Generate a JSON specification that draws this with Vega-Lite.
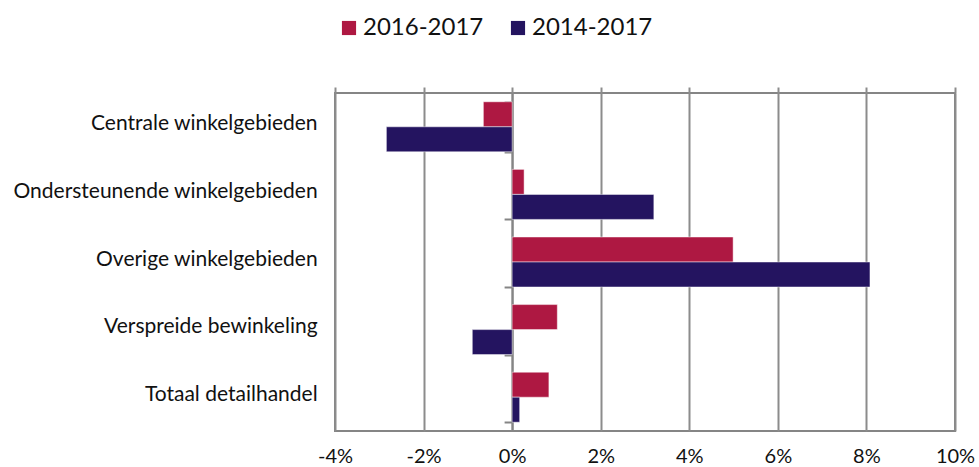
{
  "$schema": "https://vega.github.io/schema/vega-lite/v6.json",
  "autosize": {"type": "none"},
  "width": 620,
  "height": 338,
  "padding": {"left": 335, "top": 93, "right": 24, "bottom": 36},
  "background": "#ffffff",
  "config": {
    "view": {"stroke": "#858585", "strokeWidth": 2},
    "font": "Lato",
    "axis": {"labelFont": "Lato", "labelColor": "#111111"},
    "legend": {"labelFont": "Lato"}
  },
  "data": {
    "values": [
      {"cat": "Centrale winkelgebieden", "period": "2016-2017", "value": -0.65},
      {"cat": "Centrale winkelgebieden", "period": "2014-2017", "value": -2.84},
      {"cat": "Ondersteunende winkelgebieden", "period": "2016-2017", "value": 0.27},
      {"cat": "Ondersteunende winkelgebieden", "period": "2014-2017", "value": 3.2},
      {"cat": "Overige winkelgebieden", "period": "2016-2017", "value": 4.99},
      {"cat": "Overige winkelgebieden", "period": "2014-2017", "value": 8.08},
      {"cat": "Verspreide bewinkeling", "period": "2016-2017", "value": 1.02},
      {"cat": "Verspreide bewinkeling", "period": "2014-2017", "value": -0.9},
      {"cat": "Totaal detailhandel", "period": "2016-2017", "value": 0.83},
      {"cat": "Totaal detailhandel", "period": "2014-2017", "value": 0.17}
    ]
  },
  "resolve": {"axis": {"x": "independent"}},
  "layer": [
    {
      "mark": {"type": "bar", "stroke": "#ffffff", "strokeWidth": 0.8, "strokeOpacity": 0.6},
      "encoding": {
        "y": {
          "field": "cat",
          "type": "nominal",
          "sort": ["Centrale winkelgebieden", "Ondersteunende winkelgebieden", "Overige winkelgebieden", "Verspreide bewinkeling", "Totaal detailhandel"],
          "scale": {"paddingInner": 0.26, "paddingOuter": 0.13},
          "axis": {
            "title": null,
            "offset": -177.1,
            "domain": true,
            "domainColor": "#858585",
            "domainWidth": 2,
            "ticks": true,
            "tickBand": "extent",
            "tickSize": 8,
            "tickColor": "#858585",
            "tickWidth": 2,
            "labelPadding": 187,
            "labelFontSize": 21,
            "labelOffset": -3,
            "labelLimit": 500,
            "grid": false
          }
        },
        "yOffset": {"field": "period", "type": "nominal", "sort": ["2016-2017", "2014-2017"]},
        "x": {
          "field": "value",
          "type": "quantitative",
          "scale": {"domain": [-4, 10], "nice": false, "zero": false},
          "axis": {
            "title": null,
            "orient": "bottom",
            "values": [-4, -2, 0, 2, 4, 6, 8, 10],
            "labelExpr": "datum.value + '%'",
            "grid": true,
            "gridColor": "#8c8c8c",
            "gridWidth": 2,
            "domain": false,
            "ticks": false,
            "labelPadding": 15,
            "labelFontSize": 20,
            "labelFlush": false
          }
        },
        "color": {
          "field": "period",
          "type": "nominal",
          "sort": ["2016-2017", "2014-2017"],
          "scale": {"domain": ["2016-2017", "2014-2017"], "range": ["#ae1842", "#241460"]},
          "legend": {
            "title": null,
            "orient": "none",
            "direction": "horizontal",
            "legendX": 2,
            "legendY": -77,
            "symbolType": "square",
            "symbolSize": 200,
            "symbolStrokeWidth": 0,
            "labelFontSize": 24,
            "labelOffset": 2,
            "columnPadding": 22,
            "labelColor": "#111111"
          }
        }
      }
    },
    {
      "mark": {"type": "bar", "opacity": 0},
      "encoding": {
        "x": {
          "field": "value",
          "type": "quantitative",
          "axis": {
            "title": null,
            "orient": "top",
            "values": [-4, -2, 0, 2, 4, 6, 8, 10],
            "labels": false,
            "grid": false,
            "domain": false,
            "ticks": true,
            "tickSize": 6,
            "tickColor": "#8c8c8c",
            "tickWidth": 2
          }
        }
      }
    }
  ]
}
